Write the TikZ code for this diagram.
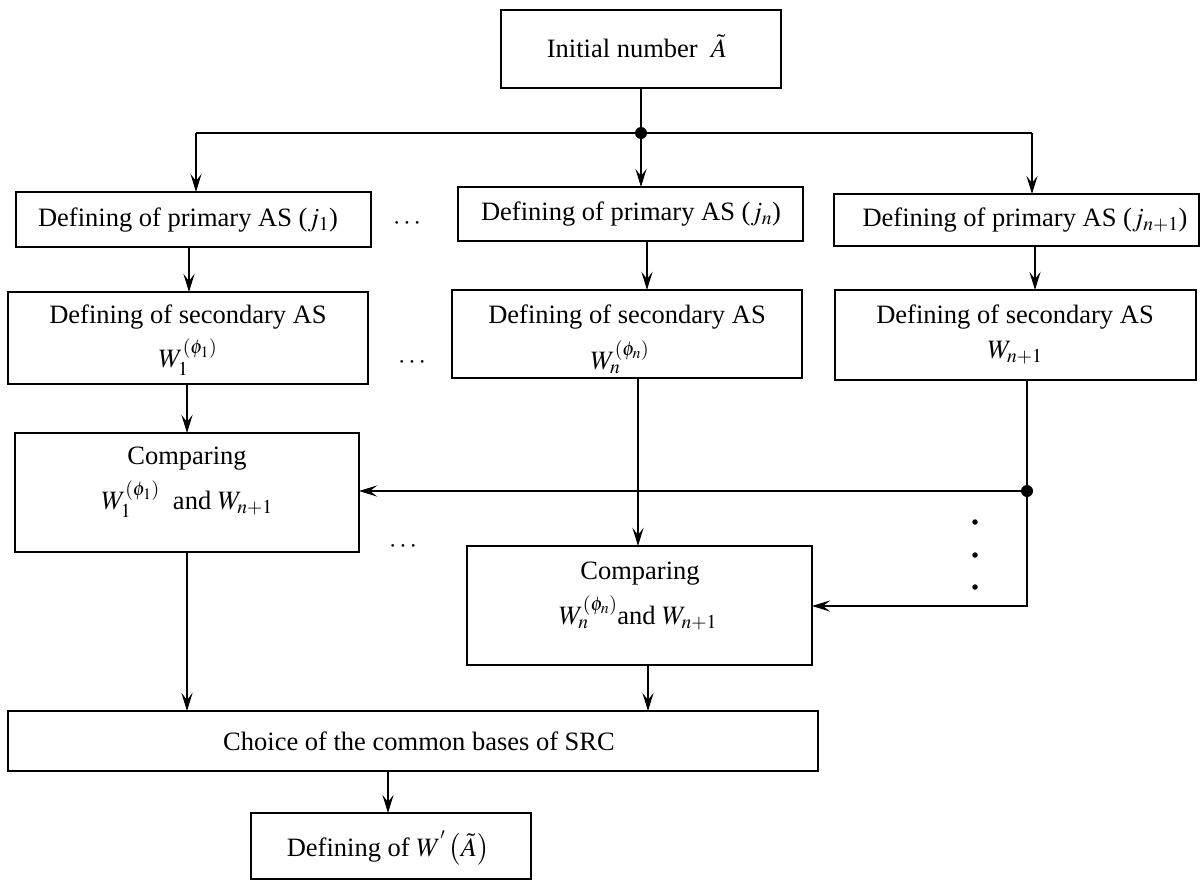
\documentclass[tikz,border=0pt]{standalone}
\usepackage{mathptmx}
\usepackage[no-math]{fontspec}
\setmainfont{Liberation Serif}
\usetikzlibrary{arrows.meta}
\begin{document}
\begin{tikzpicture}[x=1pt,y=-1pt,
  box/.style={draw,line width=1.8pt,inner sep=0pt,outer sep=0pt},
  txt/.style={inner sep=0pt,font=\fontsize{26.5}{32}\selectfont},
  conn/.style={line width=2.6pt},
  arr/.style={conn,-{Stealth[length=18pt,width=11pt,inset=7pt]}},
  jdot/.style={circle,fill=black,inner sep=0pt,minimum size=12pt},
  sdot/.style={circle,fill=black,inner sep=0pt,minimum size=5.5pt}]
\useasboundingbox (0,0) rectangle (1203,881);
% boxes
\node[box,minimum width=280pt,minimum height=78pt] (top) at (641,49) {};
\node[box,minimum width=355pt,minimum height=55pt] (p1) at (193.5,219.5) {};
\node[box,minimum width=345pt,minimum height=54pt] (p2) at (630.5,214) {};
\node[box,minimum width=365pt,minimum height=52pt] (p3) at (1016.5,220) {};
\node[box,minimum width=360pt,minimum height=92pt] (s1) at (188,338) {};
\node[box,minimum width=350pt,minimum height=88pt] (s2) at (627,334) {};
\node[box,minimum width=361pt,minimum height=90pt] (s3) at (1015.5,335) {};
\node[box,minimum width=344pt,minimum height=119pt] (c1) at (187,492.5) {};
\node[box,minimum width=345pt,minimum height=119pt] (c2) at (639.5,605.5) {};
\node[box,minimum width=810pt,minimum height=60pt] (ch) at (413,741) {};
\node[box,minimum width=280pt,minimum height=66pt] (d) at (391,846) {};
% texts
\node[txt] (topt) at (637,46) {Initial number\ \ $\tilde{A}$};
\node[txt] (p1t) at (188,220) {Defining of primary AS ($j_{1}$)};
\node[txt] (p2t) at (631,214) {Defining of primary AS ($j_{n}$)};
\node[txt] (p3t) at (1025,220) {Defining of primary AS ($j_{n+1}$)};
\node[txt] (s1t) at (188,317) {Defining of secondary AS};
\node[txt] (s1w) at (188,357) {$W_{1}^{(\phi_{1})}$};
\node[txt] (s2t) at (627,317) {Defining of secondary AS};
\node[txt] (s2w) at (620,357) {$W_{n}^{(\phi_{n})}$};
\node[txt] (s3t) at (1015,317) {Defining of secondary AS};
\node[txt] (s3w) at (1015,353) {$W_{n+1}$};
\node[txt] (c1t) at (187,459) {Comparing};
\node[txt] (c1w) at (187,499) {$W_{1}^{(\phi_{1})}$\ \ and $W_{n+1}$};
\node[txt] (c2t) at (640,574) {Comparing};
\node[txt] (c2w) at (638,613) {$W_{n}^{(\phi_{n})}$and $W_{n+1}$};
\node[txt] (cht) at (419,741) {Choice of the common bases of SRC};
\node[txt] (dt) at (388,848) {Defining of $W^{'}\left(\tilde{A}\right)$};
% ellipses
\node[txt] (e1) at (407,224) {$\cdots$};
\node[txt] (e2) at (412,363) {$\cdots$};
\node[txt] (e3) at (403,547) {$\cdots$};
\node[sdot] (v1) at (975,522) {};
\node[sdot] (v2) at (975,555) {};
\node[sdot] (v3) at (975,587) {};
% coordinates
\coordinate (hl) at (196,133);
\coordinate (hr) at (1032,133);
\coordinate (J) at (641,133);
\coordinate (xp1) at (189,0);
\coordinate (xp2) at (647,0);
\coordinate (xp3) at (1035,0);
\coordinate (xs2) at (638,0);
\coordinate (xc1) at (187,0);
\coordinate (xc2) at (648,0);
\coordinate (xch) at (388,0);
\coordinate (D) at (1027,491);
\coordinate (K) at (1027,606);
% connectors
\draw[conn] (top.south -| J) -- (J);
\draw[conn] (hl) -- (hr);
\draw[arr] (hl) -- (p1.north -| hl);
\draw[arr] (J) -- (p2.north -| J);
\draw[arr] (hr) -- (p3.north -| hr);
\draw[arr] (p1.south -| xp1) -- (s1.north -| xp1);
\draw[arr] (p2.south -| xp2) -- (s2.north -| xp2);
\draw[arr] (p3.south -| xp3) -- (s3.north -| xp3);
\draw[arr] (s1.south -| xc1) -- (c1.north -| xc1);
\draw[arr] (s2.south -| xs2) -- (c2.north -| xs2);
\draw[arr] (s3.south -| D) -- (K) -- (c2.east |- K);
\draw[arr] (D) -- (c1.east |- D);
\draw[arr] (c1.south -| xc1) -- (ch.north -| xc1);
\draw[arr] (c2.south -| xc2) -- (ch.north -| xc2);
\draw[arr] (ch.south -| xch) -- (d.north -| xch);
\node[jdot] (Jd) at (J) {};
\node[jdot] (Dd) at (D) {};
\end{tikzpicture}
\end{document}
